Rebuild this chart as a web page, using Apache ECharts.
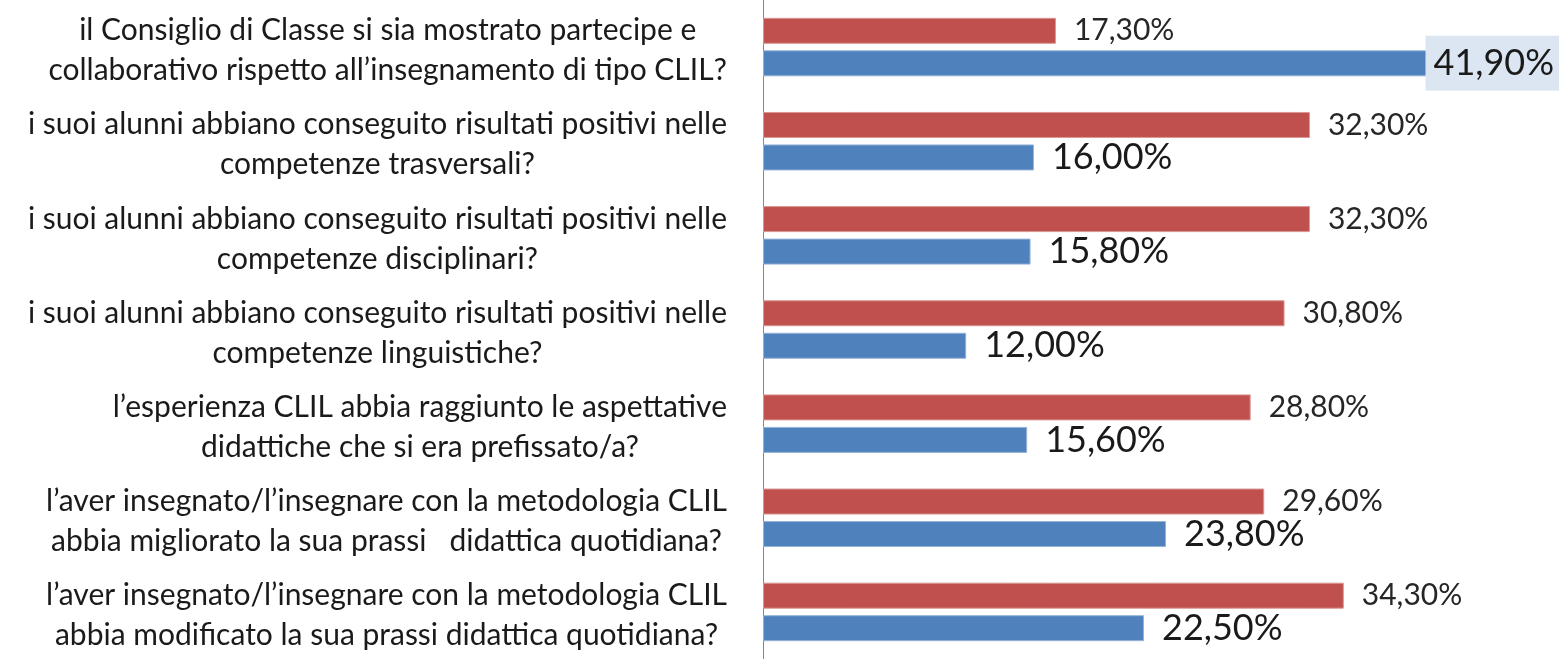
<!DOCTYPE html>
<html>
<head>
<meta charset="utf-8">
<script src="https://cdn.jsdelivr.net/npm/echarts@6/dist/echarts.min.js"></script>
<style>
html,body{margin:0;padding:0;background:#fff;}
#chart{width:1559px;height:659px;}
</style>
</head>
<body>
<div id="chart"></div>
<script>
const categories = [
  "il Consiglio di Classe si sia mostrato partecipe e\ncollaborativo rispetto all\u2019insegnamento di tipo CLIL?",
  "i suoi alunni abbiano conseguito risultati positivi nelle\ncompetenze trasversali?",
  "i suoi alunni abbiano conseguito risultati positivi nelle\ncompetenze disciplinari?",
  "i suoi alunni abbiano conseguito risultati positivi nelle\ncompetenze linguistiche?",
  "l\u2019esperienza CLIL abbia raggiunto le aspettative\ndidattiche che si era prefissato/a?",
  "l\u2019aver insegnato/l\u2019insegnare con la metodologia CLIL\nabbia migliorato la sua prassi   didattica quotidiana?",
  "l\u2019aver insegnato/l\u2019insegnare con la metodologia CLIL\nabbia modificato la sua prassi didattica quotidiana?"
];
const redValues = [17.3, 32.3, 32.3, 30.8, 28.8, 29.6, 34.3];
const blueValues = [41.9, 16.0, 15.8, 12.0, 15.6, 23.8, 22.5];
const highlightedBlueIndex = 0;

const FONT = 'Lato';
const fmt = v => v.toFixed(2).replace('.', ',') + '%';

const blueData = blueValues.map((v, i) => i === highlightedBlueIndex ? {
  value: v,
  label: {
    position: 'right',
    distance: 0,
    offset: [-47, 0],
    backgroundColor: '#DCE6F2',
    padding: [10, 20, 9, 8]
  }
} : v);

const chart = echarts.init(document.getElementById('chart'), null, {renderer: 'canvas'});
chart.setOption({
  animation: false,
  backgroundColor: '#ffffff',
  grid: {left: 763, right: 34, top: 0, height: 672},
  xAxis: {
    type: 'value', min: 0, max: 45,
    show: false
  },
  yAxis: {
    type: 'category',
    inverse: true,
    data: categories,
    axisLine: {show: true, lineStyle: {color: '#868686', width: 1}},
    axisTick: {show: false},
    splitLine: {show: false},
    axisLabel: {
      margin: 36,
      align: 'right',
      color: '#1a1a1a',
      fontFamily: FONT,
      fontSize: 30,
      lineHeight: 40,
      padding: [7, 0, 0, 0],
      formatter: function (val) {
        return val.split('\n').map(l => '{c|' + l + '}').join('\n');
      },
      rich: {
        c: {align: 'center', fontFamily: FONT, fontSize: 30, lineHeight: 40, color: '#1a1a1a'}
      }
    }
  },
  series: [
    {
      name: 'Serie 1',
      type: 'bar',
      data: redValues,
      barWidth: 26,
      barGap: '25%',
      itemStyle: {color: '#C0504D', borderColor: '#D99694', borderWidth: 1},
      label: {
        show: true, position: 'right', distance: 18,
        formatter: p => fmt(p.value),
        fontFamily: FONT, fontSize: 30, color: '#262626'
      }
    },
    {
      name: 'Serie 2',
      type: 'bar',
      data: blueData,
      barWidth: 26,
      barGap: '25%',
      itemStyle: {color: '#4F81BD', borderColor: '#95B3D7', borderWidth: 1},
      label: {
        show: true, position: 'right', distance: 18,
        formatter: p => fmt(p.value),
        fontFamily: FONT, fontSize: 36, color: '#1a1a1a'
      }
    }
  ]
});
</script>
</body>
</html>
